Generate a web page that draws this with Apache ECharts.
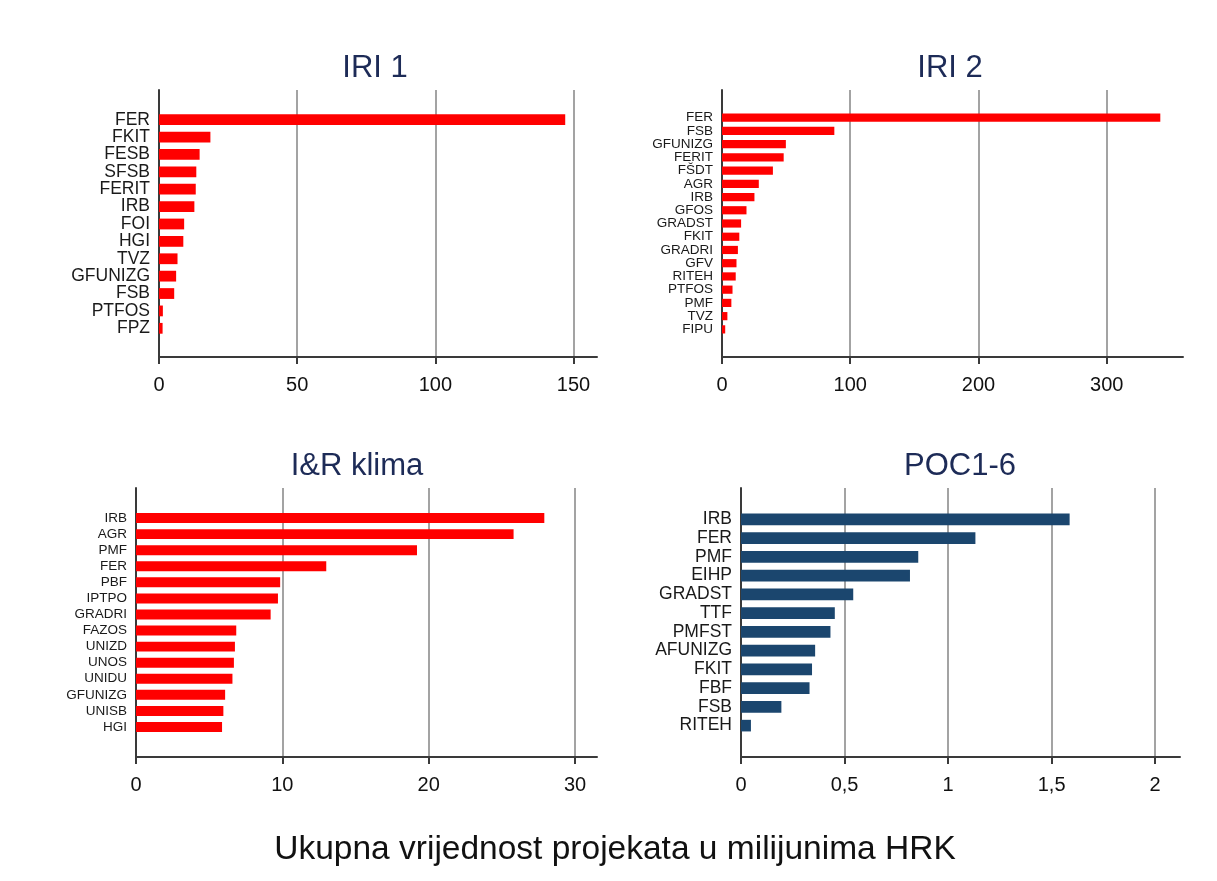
<!DOCTYPE html>
<html>
<head>
<meta charset="utf-8">
<script src="https://cdn.jsdelivr.net/npm/echarts@6/dist/echarts.min.js"></script>
<style>
  html, body { margin: 0; padding: 0; background: #fff; }
  #chart { width: 1217px; height: 881px; }
</style>
</head>
<body>
<div id="chart"></div>
<script>
// data (milijuni HRK)
const iri1Cats = ["FER", "FKIT", "FESB", "SFSB", "FERIT", "IRB", "FOI", "HGI", "TVZ", "GFUNIZG", "FSB", "PTFOS", "FPZ"];
const iri1Vals = [147, 18.6, 14.7, 13.5, 13.3, 12.8, 9.1, 8.8, 6.7, 6.2, 5.5, 1.4, 1.3];
const iri1Ticks = [0, 50, 100, 150];

const iri2Cats = ["FER", "FSB", "GFUNIZG", "FERIT", "FŠDT", "AGR", "IRB", "GFOS", "GRADST", "FKIT", "GRADRI", "GFV", "RITEH", "PTFOS", "PMF", "TVZ", "FIPU"];
const iri2Vals = [341.8, 87.6, 49.8, 48.1, 39.7, 28.7, 25.3, 19.1, 14.9, 13.5, 12.4, 11.3, 10.7, 8.2, 7.3, 4.2, 2.5];
const iri2Ticks = [0, 100, 200, 300];

const klimaCats = ["IRB", "AGR", "PMF", "FER", "PBF", "IPTPO", "GRADRI", "FAZOS", "UNIZD", "UNOS", "UNIDU", "GFUNIZG", "UNISB", "HGI"];
const klimaVals = [27.9, 25.8, 19.2, 13.0, 9.85, 9.7, 9.2, 6.85, 6.76, 6.69, 6.59, 6.09, 5.97, 5.88];
const klimaTicks = [0, 10, 20, 30];

const pocCats = ["IRB", "FER", "PMF", "EIHP", "GRADST", "TTF", "PMFST", "AFUNIZG", "FKIT", "FBF", "FSB", "RITEH"];
const pocVals = [1.587, 1.132, 0.856, 0.816, 0.542, 0.453, 0.432, 0.358, 0.343, 0.331, 0.195, 0.048];
const pocTicks = [0, 0.5, 1, 1.5, 2];

const FONT = "'Liberation Sans', Arial, sans-serif";

const chart = echarts.init(document.getElementById("chart"));

const grids = [];
const xAxes = [];
const yAxes = [];
const series = [];

// each panel: an outer frame grid (axes + grid lines) and an inner grid for the bars
function addPanel(cats, vals, ticks, p) {
  const fi = grids.length;
  grids.push({ left: p.left, right: p.right, top: p.top, bottom: p.bottom });
  grids.push({ left: p.left, right: p.right, top: p.barTop, bottom: p.barBottom });

  xAxes.push({
    type: "value", gridIndex: fi, min: 0, max: p.max,
    axisLine: { show: true, onZero: false, lineStyle: { color: "#3a3a3a", width: 2 } },
    axisTick: { show: true, length: 7, customValues: ticks, lineStyle: { color: "#3a3a3a", width: 2 } },
    axisLabel: {
      customValues: ticks, fontSize: 20, fontFamily: FONT, color: "#111", margin: 18,
      formatter: (v) => String(v).replace(".", ",")
    },
    splitLine: { show: true, showMinLine: false, lineStyle: { color: "#a3a3a3", width: 2 } }
  });
  yAxes.push({
    type: "value", gridIndex: fi, min: 0, max: 1,
    axisLine: { show: true, onZero: false, lineStyle: { color: "#3a3a3a", width: 2 } },
    axisTick: { show: false }, axisLabel: { show: false }, splitLine: { show: false }
  });

  xAxes.push({ type: "value", gridIndex: fi + 1, min: 0, max: p.max, show: false });
  yAxes.push({
    type: "category", gridIndex: fi + 1, data: cats, inverse: true,
    axisLine: { show: false }, axisTick: { show: false },
    axisLabel: { fontSize: p.labelSize, fontFamily: FONT, color: "#1a1a1a", margin: 9, interval: 0 }
  });

  series.push({
    type: "bar", xAxisIndex: fi + 1, yAxisIndex: fi + 1, data: vals,
    barCategoryGap: "38%", itemStyle: { color: p.color }, silent: true
  });
}

addPanel(iri1Cats, iri1Vals, iri1Ticks, {
  left: 159, right: 620, top: 90, bottom: 524, barTop: 111, barBottom: 544,
  max: 158.5, labelSize: 17.5, color: "#ff0000"
});
addPanel(iri2Cats, iri2Vals, iri2Ticks, {
  left: 722, right: 34, top: 90, bottom: 524, barTop: 111, barBottom: 545,
  max: 359.5, labelSize: 13.5, color: "#ff0000"
});
addPanel(klimaCats, klimaVals, klimaTicks, {
  left: 136, right: 620, top: 488, bottom: 124, barTop: 510, barBottom: 146,
  max: 31.5, labelSize: 13.5, color: "#ff0000"
});
addPanel(pocCats, pocVals, pocTicks, {
  left: 741, right: 37, top: 488, bottom: 124, barTop: 510, barBottom: 146,
  max: 2.12, labelSize: 17.5, color: "#1b466e"
});

function label(text, x, y, size, color) {
  return {
    type: "text", x: x, y: y, silent: true,
    style: { text: text, fontSize: size, fontFamily: FONT, fill: color, align: "center", verticalAlign: "middle" }
  };
}

chart.setOption({
  backgroundColor: "#fff",
  animation: false,
  grid: grids,
  xAxis: xAxes,
  yAxis: yAxes,
  series: series,
  graphic: [
    label("IRI 1", 375, 68, 31, "#1d2b57"),
    label("IRI 2", 950, 68, 31, "#1d2b57"),
    label("I&R klima", 357, 466, 31, "#1d2b57"),
    label("POC1-6", 960, 466, 31, "#1d2b57"),
    label("Ukupna vrijednost projekata u milijunima HRK", 615, 850, 33.5, "#111")
  ]
});
</script>
</body>
</html>
